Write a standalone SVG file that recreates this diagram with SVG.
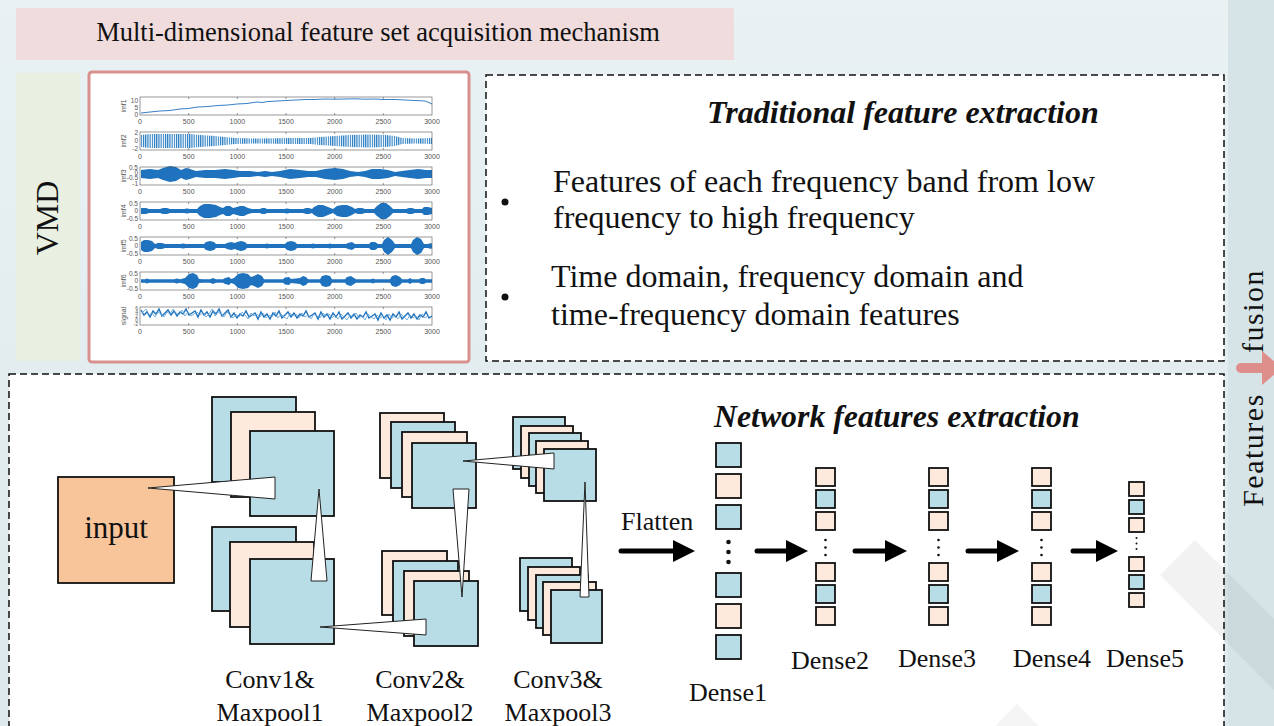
<svg xmlns="http://www.w3.org/2000/svg" width="1274" height="726" viewBox="0 0 1274 726">
<style>
.t{font-family:"Liberation Serif","Times New Roman",serif;fill:#111}
.bi{font-weight:bold;font-style:italic}
.s{font-family:"Liberation Sans",Arial,sans-serif;fill:#555}
.blue{fill:#b8dde7;stroke:#111;stroke-width:1.8}
.peach{fill:#fdeadd;stroke:#111;stroke-width:1.8}
.dash{fill:#fff;stroke:#111;stroke-width:1.5;stroke-dasharray:7 4}
.wedge{fill:#fff;stroke:#222;stroke-width:1}
.wave{fill:#1f72bd}
.arr{stroke:#000;stroke-width:5;stroke-linecap:round;fill:none}
.dot{fill:#111}
</style>
<defs>
<linearGradient id="bg" x1="0" y1="0" x2="0" y2="1"><stop offset="0" stop-color="#e9f1f3"/><stop offset="1" stop-color="#dde9ec"/></linearGradient>
<pattern id="osc" width="2.2" height="20" patternUnits="userSpaceOnUse"><rect width="1.1" height="20" fill="#1f78c1"/></pattern>
<marker id="ah" markerWidth="22" markerHeight="22" refX="0" refY="11" orient="auto" markerUnits="userSpaceOnUse"><path d="M0,0 L22,11 L0,22 Z" fill="#000"/></marker>
<g id="axis">
<rect x="140" y="0" width="292" height="18" fill="none" stroke="#555" stroke-width="0.6"/>
<path d="M188.7,0v2M237.3,0v2M286,0v2M334.7,0v2M383.3,0v2M188.7,18v-2M237.3,18v-2M286,18v-2M334.7,18v-2M383.3,18v-2" stroke="#555" stroke-width="0.6"/>
<g class="s" font-size="7" text-anchor="middle">
<text x="140" y="27">0</text><text x="188.7" y="27">500</text><text x="237.3" y="27">1000</text><text x="286" y="27">1500</text><text x="334.7" y="27">2000</text><text x="383.3" y="27">2500</text><text x="432" y="27">3000</text>
</g>
</g>
<path id="imf2h" d="M141,141 L141,135 L150,134 L170,134 L190,134 L200,135 L215,136 L225,137 L235,138 L260,138.5 L290,138 L310,138 L320,137 L335,136 L350,135 L370,134.5 L385,135 L395,136 L402,138 L415,138.5 L432,138 L432,141 Z"/>
<path id="imf4h" d="M141,211 L141,208 L143,208 L146,208 L149,209 L160,209 L163,208 L167,208 L170,209 L184,209 L187,208.5 L190,209 L197,209 L200,206 L204,204 L210,204 L216,205 L220,207 L223,208 L226,206 L230,206 L233,208 L237,207 L240,206 L244,206 L248,208 L252,209 L260,209 L262,208 L265,208 L267,209 L284,209 L287,208.5 L290,209 L303,209 L306,208 L309,208 L312,209 L314,207 L318,205 L323,205 L328,207 L333,209 L337,206 L342,205 L347,205 L352,207 L355,209 L358,208 L362,208 L365,209 L374,209 L377,206 L381,203 L386,203 L390,206 L393,209 L406,209 L409,208 L412,208 L415,209 L422,209 L424,207 L428,207 L432,208 L432,211 Z"/>
<path id="imf5h" d="M141,246 L141,242 L144,240 L148,240 L152,241 L155,244 L158,243 L162,243 L165,244 L180,244 L183,243.5 L186,244 L204,244 L206,242 L210,241 L214,242 L216,244 L225,244 L227,243 L231,242 L235,243 L237,242 L241,241 L245,242 L247,244 L265,244 L267,243.5 L269,244 L285,244 L287,242 L291,241 L295,242 L297,244 L311,244 L313,243.5 L315,244 L328,244 L330,243.5 L332,244 L346,244 L348,243 L352,242 L355,244 L369,244 L371,242 L375,242 L378,244 L382,244 L384,240 L388,237 L392,240 L395,244 L399,244 L401,244 L411,244 L413,240 L417,237 L421,239 L424,244 L428,244 L431,243 L432,244 L432,246 Z"/>
<path id="imf6h" d="M141,281 L141,279.3 L145,279.3 L147,278.5 L149,279.3 L174,279.3 L177,278.5 L180,279.3 L185,278 L189,274 L193,273 L197,275 L199,279 L203,279.3 L210,279.3 L213,278 L216,279.3 L223,279.3 L225,278 L229,277 L231,279 L234,278 L238,274 L243,273 L248,274 L251,277 L254,276 L258,274 L262,276 L264,279.3 L283,279.3 L285,277.5 L289,277 L291,279 L300,278 L303,276 L306,277 L308,279.3 L320,279.3 L322,276 L326,275 L330,276 L332,279.3 L345,279.3 L347,277 L351,276 L354,278 L356,279.3 L371,279.3 L373,278.5 L375,279.3 L390,279.3 L392,276 L396,275 L400,277 L402,279.3 L408,279.3 L410,278 L412,279.3 L419,279.3 L421,278 L424,278 L426,279.3 L432,279.3 L432,281 Z"/>
</defs>

<!-- background -->
<rect width="1274" height="726" fill="url(#bg)"/>
<rect x="1228" y="0" width="46" height="726" fill="#d6e4e8"/>

<g id="title">
<rect x="16" y="8" width="718" height="52" fill="#f0dcdc"/>
<text class="t" x="378" y="41" font-size="26.5" text-anchor="middle">Multi-dimensional feature set acquisition mechanism</text>
</g>

<g id="vmd-label">
<rect x="16" y="73" width="64" height="288" fill="#e9f0e1"/>
<text class="t" transform="translate(58,218) rotate(-90)" font-size="32" text-anchor="middle">VMD</text>
</g>

<g id="vmd-plot">
<rect x="89" y="72" width="380" height="290" rx="3" fill="#fff" stroke="#d8918e" stroke-width="3"/>
<polyline fill="none" stroke="#1f72bd" stroke-width="0.9" points="141,113 150,112 160,111 170,110.5 180,109 188,108.5 198,107 208,106.5 218,105.5 228,105 237,104 247,103.5 257,102 262,102.5 268,101.5 278,101 286,100.5 296,100 306,99.5 315,99.5 325,99 335,99.2 345,99 355,98.8 365,99.2 375,99 383,99.5 395,99.5 405,100 415,100.5 425,101 430,103 432,104"/>
<use href="#imf2h" fill="url(#osc)"/>
<use href="#imf2h" fill="url(#osc)" transform="matrix(1,0,0,-1,0,282)"/>
<polygon class="wave" points="141,170 150,169 158,170 163,168 170,166 176,167 181,170 186,168 190,169 196,171 205,170 215,170 225,169 233,170 240,171 250,171 258,172 265,171 272,172 280,171 290,169 300,170 308,171 316,171 325,169 335,168 343,169 350,171 358,172 365,171 372,169 380,169 388,170 395,172 402,171 410,170 418,169 426,170 432,170 432,178 426,178 418,179 410,178 402,177 395,176 388,178 380,179 372,179 365,177 358,176 350,177 343,179 335,180 325,179 316,177 308,177 300,178 290,179 280,177 272,176 265,177 258,176 250,177 240,177 233,178 225,179 215,178 205,178 196,177 190,179 186,180 181,178 176,181 170,182 163,180 158,178 150,179 141,178"/>
<use href="#imf4h" class="wave"/>
<use href="#imf4h" class="wave" transform="matrix(1,0,0,-1,0,422)"/>
<use href="#imf5h" class="wave"/>
<use href="#imf5h" class="wave" transform="matrix(1,0,0,-1,0,492)"/>
<use href="#imf6h" class="wave"/>
<use href="#imf6h" class="wave" transform="matrix(1,0,0,-1,0,562)"/>
<polyline fill="none" stroke="#1f72bd" stroke-width="1.4" points="141,310 144,315 147,312 150,317 153,311 156,314 159,309 162,316 165,313 168,310 171,315 174,311 177,316 180,312 183,314 186,309 189,315 192,313 195,311 198,317 201,310 204,315 207,312 210,317 213,311 216,314 219,309 222,316 225,313 228,310 231,317 234,313 237,318 240,314 243,316 246,311 249,317 252,315 255,313 258,319 261,312 264,317 267,314 270,319 273,313 276,316 279,311 282,318 285,315 288,312 291,317 294,313 297,318 300,314 303,316 306,311 309,317 312,315 315,313 318,319 321,312 324,317 327,314 330,319 333,313 336,317 339,312 342,319 345,316 348,313 351,318 354,314 357,319 360,315 363,317 366,312 369,318 372,316 375,314 378,320 381,313 384,318 387,315 390,320 393,314 396,317 399,312 402,319 405,316 408,313 411,318 414,314 417,319 420,315 423,317 426,312 429,318 432,316"/>
<polyline fill="none" stroke="#5a9fd6" stroke-width="0.8" points="142,313 146,309 149,315 152,313 155,317 158,312 161,314 164,317 167,312 170,314 173,309 176,313 179,315 182,310 185,316 188,312 191,316 194,314 197,312 200,315 203,313 206,317 209,314 212,309 215,316 218,312 221,314 224,317 227,312 230,315 233,318 236,314 239,317 242,312 245,315 248,319 251,313 254,316 257,314 260,317 263,313 266,318 269,315 272,317 275,312 278,318 281,314 284,317 287,319 290,313 293,316 296,314 299,318 302,313 305,317 308,315 311,319 314,314 317,316 320,318 323,313 326,316 329,314 332,318 335,315 338,319 341,314 344,317 347,320 350,315 353,317 356,313 359,318 362,316 365,320 368,314 371,317 374,319 377,315 380,318 383,316 386,320 389,314 392,318 395,316 398,319 401,314 404,317 407,320 410,315 413,318 416,316 419,320 422,314 425,318 428,316 431,318"/>
<use href="#axis" y="97"/>
<use href="#axis" y="132"/>
<use href="#axis" y="167"/>
<use href="#axis" y="202"/>
<use href="#axis" y="237"/>
<use href="#axis" y="272"/>
<use href="#axis" y="307"/>
<g class="s" font-size="7" text-anchor="middle">
<text transform="translate(126,106) rotate(-90)">imf1</text>
<text transform="translate(126,141) rotate(-90)">imf2</text>
<text transform="translate(126,176) rotate(-90)">imf3</text>
<text transform="translate(126,211) rotate(-90)">imf4</text>
<text transform="translate(126,246) rotate(-90)">imf5</text>
<text transform="translate(126,281) rotate(-90)">imf6</text>
<text transform="translate(126,316) rotate(-90)">signal</text>
</g>
<g class="s" font-size="6.5" text-anchor="end">
<text x="138" y="103">10</text><text x="138" y="110">5</text><text x="138" y="117">0</text>
<text x="138" y="135">2</text><text x="138" y="143">0</text><text x="138" y="151">-2</text>
<text x="138" y="170">0.5</text><text x="138" y="175">0</text><text x="138" y="180">-0.5</text><text x="138" y="186">-1</text>
<text x="138" y="206">0.5</text><text x="138" y="213">0</text><text x="138" y="221">-0.5</text>
<text x="138" y="241">0.5</text><text x="138" y="248">0</text><text x="138" y="256">-0.5</text>
<text x="138" y="276">0.5</text><text x="138" y="283">0</text><text x="138" y="291">-0.5</text>
</g>
<g class="s" font-size="5" text-anchor="end">
<text x="138" y="310">6</text><text x="138" y="314">4</text><text x="138" y="318">2</text><text x="138" y="322">0</text><text x="138" y="326">-2</text>
</g>
</g>

<g id="traditional">
<rect class="dash" x="486" y="75" width="738" height="286"/>
<text class="t bi" x="707" y="123" font-size="32">Traditional feature extraction</text>
<circle class="dot" cx="505" cy="202" r="3.5"/>
<circle class="dot" cx="505" cy="297" r="3.5"/>
<text class="t" x="553" y="192" font-size="32">Features of each frequency band from low</text>
<text class="t" x="553" y="228" font-size="32">frequency to high frequency</text>
<text class="t" x="551" y="287" font-size="32">Time domain, frequency domain and</text>
<text class="t" x="551" y="325" font-size="32">time-frequency domain features</text>
</g>

<g id="network">
<rect class="dash" x="9" y="374" width="1215" height="370"/>
<text class="t bi" x="714" y="427" font-size="31.8">Network features extraction</text>
</g>

<!-- faint watermark -->
<polygon points="1160,575 1195,540 1274,619 1274,690" fill="#000" fill-opacity="0.05"/>
<polygon points="995,726 1017,704 1039,726" fill="#000" fill-opacity="0.04"/>

<g id="input">
<rect x="58" y="477" width="116" height="106" fill="#f8c59a" stroke="#111" stroke-width="1.8"/>
<text class="t" x="116" y="538" font-size="31" text-anchor="middle">input</text>
</g>

<g id="conv1-top">
<rect class="blue" x="212" y="397" width="84" height="85"/>
<rect class="peach" x="231" y="412" width="84" height="85"/>
<rect class="blue" x="250" y="431" width="84" height="85"/>
</g>
<g id="conv1-bottom">
<rect class="blue" x="212" y="527" width="84" height="84"/>
<rect class="peach" x="230" y="542" width="84" height="85"/>
<rect class="blue" x="250" y="559" width="84" height="85"/>
</g>
<g id="conv2-top">
<rect class="peach" x="380" y="413" width="64" height="65"/>
<rect class="blue" x="391" y="422" width="64" height="66"/>
<rect class="peach" x="402" y="432" width="65" height="65"/>
<rect class="blue" x="412" y="443" width="64" height="65"/>
</g>
<g id="conv2-bottom">
<rect class="peach" x="382" y="551" width="65" height="64"/>
<rect class="blue" x="393" y="561" width="65" height="65"/>
<rect class="peach" x="404" y="571" width="65" height="65"/>
<rect class="blue" x="414" y="581" width="64" height="65"/>
</g>
<g id="conv3-top">
<rect class="blue" x="513" y="417" width="52" height="52"/>
<rect class="peach" x="521" y="426" width="52" height="52"/>
<rect class="blue" x="529" y="433" width="52" height="53"/>
<rect class="peach" x="536" y="441" width="52" height="52"/>
<rect class="blue" x="544" y="449" width="52" height="52"/>
</g>
<g id="conv3-bottom">
<rect class="blue" x="520" y="558" width="52" height="53"/>
<rect class="peach" x="528" y="567" width="52" height="53"/>
<rect class="blue" x="536" y="575" width="52" height="53"/>
<rect class="peach" x="543" y="582" width="53" height="53"/>
<rect class="blue" x="551" y="590" width="51" height="53"/>
</g>

<g id="conv-labels" class="t" font-size="26" text-anchor="middle">
<text x="270" y="688">Conv1&amp;</text><text x="270" y="721">Maxpool1</text>
<text x="420" y="688">Conv2&amp;</text><text x="420" y="721">Maxpool2</text>
<text x="558" y="688">Conv3&amp;</text><text x="558" y="721">Maxpool3</text>
</g>

<g id="flatten-label">
<text class="t" x="621" y="530" font-size="26">Flatten</text>
</g>

<g id="dense1">
<rect class="blue" x="716" y="443" width="25" height="24" stroke-width="2"/>
<rect class="peach" x="716" y="474" width="25" height="24" stroke-width="2"/>
<rect class="blue" x="716" y="505" width="25" height="24" stroke-width="2"/>
<circle class="dot" cx="728.5" cy="542" r="2.3"/><circle class="dot" cx="728.5" cy="552" r="2.3"/><circle class="dot" cx="728.5" cy="562" r="2.3"/>
<rect class="blue" x="716" y="573" width="25" height="24" stroke-width="2"/>
<rect class="peach" x="716" y="604" width="25" height="24" stroke-width="2"/>
<rect class="blue" x="716" y="635" width="25" height="24" stroke-width="2"/>
<text class="t" x="728" y="701" font-size="26" text-anchor="middle">Dense1</text>
</g>
<g id="dense2">
<rect class="peach" x="816" y="468" width="19" height="18" stroke-width="2"/>
<rect class="blue" x="816" y="490" width="19" height="18" stroke-width="2"/>
<rect class="peach" x="816" y="512" width="19" height="18" stroke-width="2"/>
<circle class="dot" cx="825.5" cy="540" r="1.3"/><circle class="dot" cx="825.5" cy="547.5" r="1.3"/><circle class="dot" cx="825.5" cy="555" r="1.3"/>
<rect class="peach" x="816" y="563" width="19" height="18" stroke-width="2"/>
<rect class="blue" x="816" y="585" width="19" height="18" stroke-width="2"/>
<rect class="peach" x="816" y="607" width="19" height="18" stroke-width="2"/>
<text class="t" x="830" y="669" font-size="26" text-anchor="middle">Dense2</text>
</g>
<g id="dense3">
<rect class="peach" x="929" y="468" width="19" height="18" stroke-width="2"/>
<rect class="blue" x="929" y="490" width="19" height="18" stroke-width="2"/>
<rect class="peach" x="929" y="512" width="19" height="18" stroke-width="2"/>
<circle class="dot" cx="938.5" cy="540" r="1.3"/><circle class="dot" cx="938.5" cy="547.5" r="1.3"/><circle class="dot" cx="938.5" cy="555" r="1.3"/>
<rect class="peach" x="929" y="563" width="19" height="18" stroke-width="2"/>
<rect class="blue" x="929" y="585" width="19" height="18" stroke-width="2"/>
<rect class="peach" x="929" y="607" width="19" height="18" stroke-width="2"/>
<text class="t" x="937" y="667" font-size="26" text-anchor="middle">Dense3</text>
</g>
<g id="dense4">
<rect class="peach" x="1032" y="468" width="19" height="18" stroke-width="2"/>
<rect class="blue" x="1032" y="490" width="19" height="18" stroke-width="2"/>
<rect class="peach" x="1032" y="512" width="19" height="18" stroke-width="2"/>
<circle class="dot" cx="1041.5" cy="540" r="1.3"/><circle class="dot" cx="1041.5" cy="547.5" r="1.3"/><circle class="dot" cx="1041.5" cy="555" r="1.3"/>
<rect class="peach" x="1032" y="563" width="19" height="18" stroke-width="2"/>
<rect class="blue" x="1032" y="585" width="19" height="18" stroke-width="2"/>
<rect class="peach" x="1032" y="607" width="19" height="18" stroke-width="2"/>
<text class="t" x="1052" y="667" font-size="26" text-anchor="middle">Dense4</text>
</g>
<g id="dense5">
<rect class="peach" x="1129" y="482" width="15" height="14" stroke-width="2"/>
<rect class="blue" x="1129" y="500" width="15" height="14" stroke-width="2"/>
<rect class="peach" x="1129" y="518" width="15" height="14" stroke-width="2"/>
<circle class="dot" cx="1136.5" cy="538" r="1"/><circle class="dot" cx="1136.5" cy="543.5" r="1"/><circle class="dot" cx="1136.5" cy="549" r="1"/>
<rect class="peach" x="1129" y="557" width="15" height="14" stroke-width="2"/>
<rect class="blue" x="1129" y="575" width="15" height="14" stroke-width="2"/>
<rect class="peach" x="1129" y="593" width="15" height="14" stroke-width="2"/>
<text class="t" x="1145" y="667" font-size="26" text-anchor="middle">Dense5</text>
</g>

<g id="connectors">
<polygon class="wedge" points="148,488 275,477 275,499"/>
<polygon class="wedge" points="319,489 311,581 327,581"/>
<polygon class="wedge" points="320,627 426,619 426,635"/>
<polygon class="wedge" points="453,489 469,489 462,597"/>
<polygon class="wedge" points="463,461 554,453 554,469"/>
<polygon class="wedge" points="585,482 580,597 589,597"/>
<line class="arr" x1="621" y1="551" x2="673" y2="551" marker-end="url(#ah)"/>
<line class="arr" x1="757" y1="551" x2="786" y2="551" marker-end="url(#ah)"/>
<line class="arr" x1="855" y1="551" x2="885" y2="551" marker-end="url(#ah)"/>
<line class="arr" x1="968" y1="551" x2="997" y2="551" marker-end="url(#ah)"/>
<line class="arr" x1="1073" y1="551" x2="1096" y2="551" marker-end="url(#ah)"/>
</g>

<g id="features-fusion">
<text class="t" transform="translate(1263,311) rotate(-90)" font-size="30" letter-spacing="1.5" text-anchor="middle">fusion</text>
<text class="t" transform="translate(1263,450) rotate(-90)" font-size="30" letter-spacing="1.5" text-anchor="middle">Features</text>
<line x1="1241" y1="368" x2="1264" y2="368" stroke="#de8f8b" stroke-width="10" stroke-linecap="round"/>
<polygon points="1262,351 1282,368 1262,385" fill="#de8f8b"/>
</g>
</svg>
